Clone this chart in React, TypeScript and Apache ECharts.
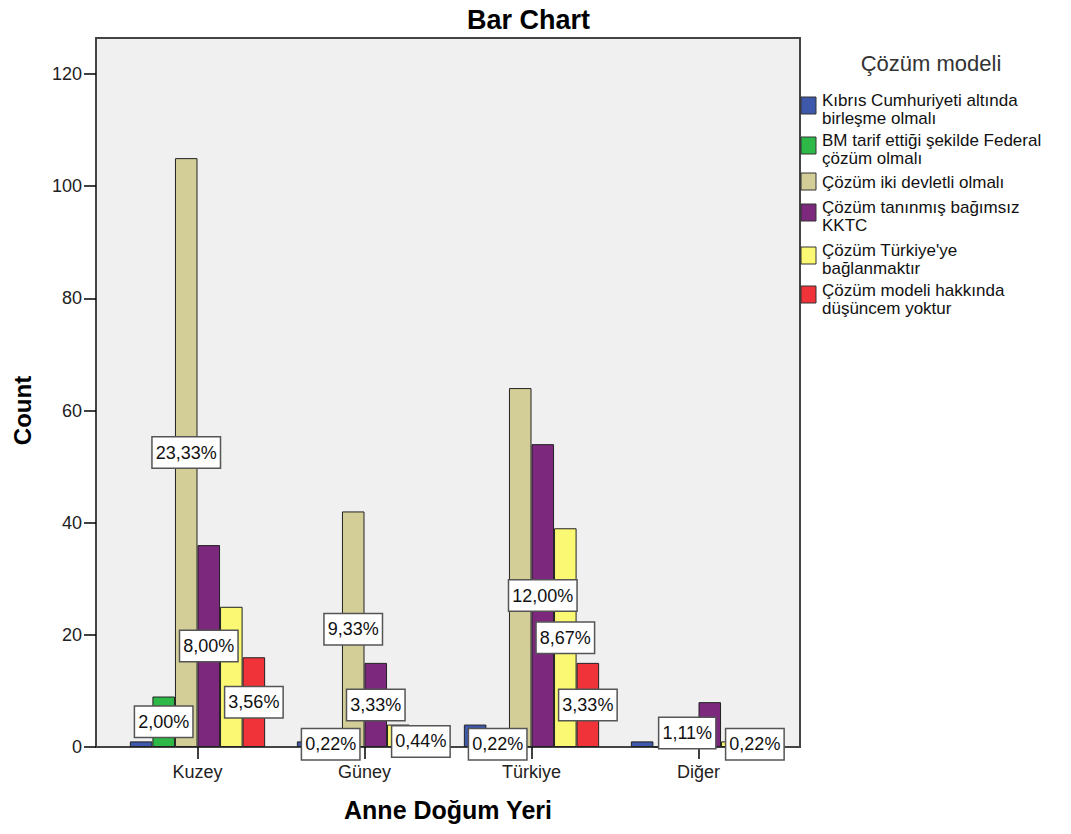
import React, { useEffect, useRef } from "react";
import * as echarts from "echarts";

const categories = ["Kuzey", "Güney", "Türkiye", "Diğer"];
const seriesNames = [
  "Kıbrıs Cumhuriyeti altında birleşme olmalı",
  "BM tarif ettiği şekilde Federal çözüm olmalı",
  "Çözüm iki devletli olmalı",
  "Çözüm tanınmış bağımsız KKTC",
  "Çözüm Türkiye'ye bağlanmaktır",
  "Çözüm modeli hakkında düşüncem yoktur",
];
const legendLabels = [
  "Kıbrıs Cumhuriyeti altında\nbirleşme olmalı",
  "BM tarif ettiği şekilde Federal\nçözüm olmalı",
  "Çözüm iki devletli olmalı",
  "Çözüm tanınmış bağımsız\nKKTC",
  "Çözüm Türkiye'ye\nbağlanmaktır",
  "Çözüm modeli hakkında\ndüşüncem yoktur",
];
const colors = ["#3e58ac", "#2eb848", "#d3ce97", "#7c287d", "#fbf873", "#ef3338"];

const kibris = [1, 1, 4, 1];
const bmFederal = [9, 1, 1, 0];
const ikiDevlet = [105, 42, 64, 5];
const taninmis = [36, 15, 54, 8];
const turkiyeye = [25, 4, 39, 1];
const dusuncem = [16, 2, 15, 1];

const kibrisLabels = [false, false, false, false];
const bmFederalLabels = [true, true, true, false];
const ikiDevletLabels = [true, true, false, true];
const taninmisLabels = [true, true, true, false];
const turkiyeyeLabels = [false, false, true, false];
const dusuncemLabels = [true, true, true, true];

const yTicks = { min: 0, max: 120, interval: 20 };

const allValues = [kibris, bmFederal, ikiDevlet, taninmis, turkiyeye, dusuncem];
const allLabels = [kibrisLabels, bmFederalLabels, ikiDevletLabels, taninmisLabels, turkiyeyeLabels, dusuncemLabels];

const FONT = "Liberation Sans, Arial, sans-serif";

export default function App() {
  const ref = useRef<HTMLDivElement>(null);
  useEffect(() => {
    if (!ref.current) return;
    const chart = echarts.init(ref.current, undefined, { renderer: "svg" });
    const total = allValues.reduce((s, arr) => s + arr.reduce((a, b) => a + b, 0), 0);

    const series = allValues.map((vals, si) => ({
      type: "bar",
      name: seriesNames[si],
      barGap: "0%",
      barCategoryGap: "19%",
      itemStyle: { color: colors[si], borderColor: "#222", borderWidth: 1 },
      label: {
        show: false,
        position: "inside",
        formatter: (p: any) => ((p.value / total) * 100).toFixed(2).replace(".", ",") + "%",
        backgroundColor: "#ffffff",
        borderColor: "#555",
        borderWidth: 1.5,
        padding: [7, 3, 5, 3],
        color: "#111",
        fontSize: 18,
        fontFamily: FONT,
      },
      data: vals.map((v, ci) => ({ value: v, label: { show: allLabels[si][ci] } })),
    }));

    const markerTops = [97, 137, 173, 204, 247, 286];
    const textTops = [91, 131, 173, 198, 241, 281];
    const legendGraphics: any[] = [];
    legendLabels.forEach((lbl, i) => {
      legendGraphics.push({
        type: "rect",
        shape: { x: 801, y: markerTops[i], width: 15, height: 17 },
        style: { fill: colors[i], stroke: "#333", lineWidth: 1 },
        z: 10,
      });
      legendGraphics.push({
        type: "text",
        x: 822,
        y: textTops[i],
        style: {
          text: lbl,
          fontSize: 17,
          lineHeight: 18,
          fontFamily: FONT,
          fill: "#111",
          verticalAlign: "top",
        },
        z: 10,
      });
    });

    chart.setOption({
      animation: false,
      backgroundColor: "#ffffff",
      textStyle: { fontFamily: FONT },
      title: {
        text: "Bar Chart",
        left: 462,
        top: 1,
        textStyle: { fontSize: 27, fontWeight: "bold", color: "#000", fontFamily: FONT },
      },
      grid: { left: 114, right: 289, top: 74, bottom: 87, containLabel: false },
      xAxis: {
        type: "category",
        data: categories,
        axisLine: { show: false },
        axisTick: { show: true, alignWithLabel: true, length: 12, lineStyle: { color: "#000", width: 1.5 } },
        axisLabel: { margin: 16, fontSize: 18, color: "#222", fontFamily: FONT },
        name: "Anne Doğum Yeri",
        nameLocation: "middle",
        nameGap: 50,
        nameTextStyle: { fontSize: 25, fontWeight: "bold", color: "#000", fontFamily: FONT },
      },
      yAxis: {
        type: "value",
        min: yTicks.min,
        max: yTicks.max,
        interval: yTicks.interval,
        offset: 18,
        axisLine: { show: false },
        axisTick: { show: true, length: 12, lineStyle: { color: "#000", width: 1.5 } },
        axisLabel: { margin: 14, fontSize: 18, color: "#222", fontFamily: FONT },
        splitLine: { show: false },
        name: "Count",
        nameLocation: "middle",
        nameGap: 62,
        nameTextStyle: { fontSize: 24, fontWeight: "bold", color: "#000", fontFamily: FONT },
      },
      graphic: [
        {
          type: "rect",
          shape: { x: 96, y: 38, width: 704, height: 709 },
          style: { fill: "#f0f0f0", stroke: "#444", lineWidth: 2 },
          z: -1,
          silent: true,
        },
        {
          type: "text",
          x: 931,
          y: 63,
          style: {
            text: "Çözüm modeli",
            fontSize: 22,
            fontFamily: FONT,
            fill: "#333",
            align: "center",
            verticalAlign: "middle",
          },
        },
        ...legendGraphics,
      ],
      series,
    });
    return () => chart.dispose();
  }, []);
  return (
    <div
      ref={ref}
      style={{ position: "fixed", left: 0, top: 0, width: 1071, height: 834 }}
    />
  );
}
